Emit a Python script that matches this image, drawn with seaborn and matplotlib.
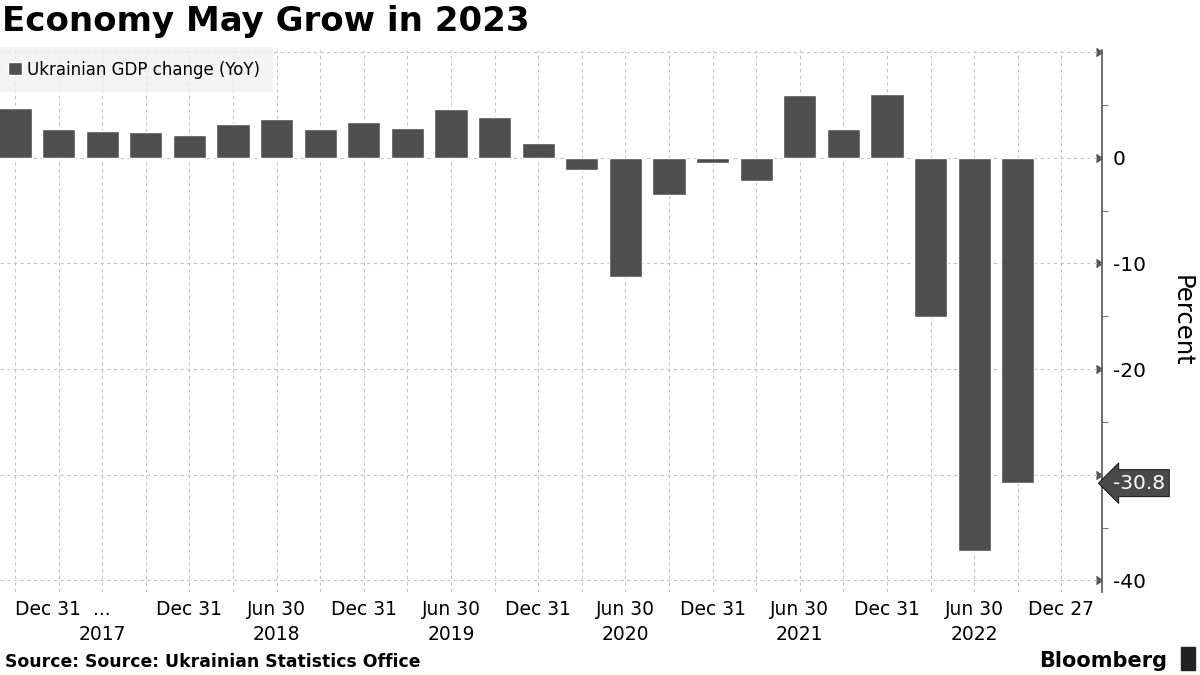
import pandas as pd
import matplotlib
matplotlib.use("Agg")
import matplotlib.pyplot as plt
from matplotlib.patches import Rectangle
import seaborn as sns

# quarterly YoY GDP change, Ukraine (last quarter slot has no value yet)
quarters = ['2016Q4', '2017Q1', '2017Q2', '2017Q3', '2017Q4',
            '2018Q1', '2018Q2', '2018Q3', '2018Q4',
            '2019Q1', '2019Q2', '2019Q3', '2019Q4',
            '2020Q1', '2020Q2', '2020Q3', '2020Q4',
            '2021Q1', '2021Q2', '2021Q3', '2021Q4',
            '2022Q1', '2022Q2', '2022Q3']
all_slots = quarters + ['2022Q4']
gdp_change = [4.7, 2.7, 2.5, 2.4, 2.2,
              3.2, 3.7, 2.7, 3.4,
              2.8, 4.6, 3.9, 1.4,
              -1.2, -11.3, -3.5, -0.5,
              -2.2, 5.9, 2.7, 6.0,
              -15.1, -37.2, -30.8]
tick_labels = ['Dec 31', '...\n2017', 'Dec 31', 'Jun 30\n2018', 'Dec 31',
               'Jun 30\n2019', 'Dec 31', 'Jun 30\n2020', 'Dec 31',
               'Jun 30\n2021', 'Dec 31', 'Jun 30\n2022', 'Dec 27']
y_ticks = [10, 0, -10, -20, -30, -40]
y_tick_labels = ['', '0', '-10', '-20', '', '-40']  # -30 sits under the value tag

df = pd.DataFrame({'quarter': quarters, 'gdp': gdp_change})

sns.set_theme(style='white')
plt.rcParams['font.family'] = ['DejaVu Sans']
plt.rcParams['text.color'] = 'black'

bar_color = '#4f4f4f'
fig = plt.figure(figsize=(12, 6.75), dpi=100)
ax = fig.add_axes([0, 1 - 592 / 675, 1102 / 1200, (592 - 50) / 675])

sns.barplot(data=df, x='quarter', y='gdp', order=all_slots, color=bar_color,
            saturation=1, width=0.76, label='Ukrainian GDP change (YoY)',
            zorder=3, ax=ax)

ax.set_xlim(-0.345, 24.93)
ax.set_ylim(-41.1, 10.2)

# grid
ax.set_axisbelow(True)
for i in range(len(all_slots)):
    ax.axvline(i, color='#c4c4c4', lw=0.8, ls=(0, (3, 3)), zorder=1)
for v in y_ticks:
    ax.axhline(v, color='#c4c4c4', lw=0.8, ls=(0, (3, 3)), zorder=1)

# x axis
ax.set_xticks(range(0, 25, 2))
ax.set_xticklabels(tick_labels, fontsize=13.5, color='black', linespacing=1.4)
ax.tick_params(axis='x', length=0, pad=6)
ax.get_xticklabels()[0].set_ha('left')
ax.set_xlabel('')

# y axis on the right
ax.yaxis.tick_right()
ax.yaxis.set_label_position('right')
ax.set_yticks(y_ticks)
ax.set_yticklabels(y_tick_labels, fontsize=14.5, color='black')
ax.set_yticks([5, -5, -15, -25, -35], minor=True)
ax.tick_params(axis='y', which='major', length=6, width=1, color='#555555', pad=2)
ax.tick_params(axis='y', which='minor', right=True, length=4, width=0.8,
               color='#777777')
for t in ax.yaxis.get_major_ticks():
    t.tick2line.set_marker(5)
    t.tick2line.set_markersize(6)
ax.set_ylabel('Percent', fontsize=17.5, rotation=270, labelpad=34, color='black')

for side in ['left', 'top', 'bottom']:
    ax.spines[side].set_visible(False)
ax.spines['right'].set_color('#555555')
ax.spines['right'].set_linewidth(1.2)

# last value tag
ax.annotate(f'{gdp_change[-1]:.1f}', xy=(1, gdp_change[-1]),
            xycoords=('axes fraction', 'data'), xytext=(8, 0),
            textcoords='offset points', ha='left', va='center',
            fontsize=14.5, color='white', zorder=10, annotation_clip=False,
            bbox=dict(boxstyle='larrow,pad=0.2', fc='#4a4a4a', ec='black', lw=0.6))

# legend
leg = ax.legend(loc='upper left', bbox_to_anchor=(0, 0.996), frameon=True,
                fontsize=12, handlelength=0.85, handleheight=0.85,
                handletextpad=0.25, borderpad=0.5, borderaxespad=0)
leg.get_frame().set_facecolor('#f0f0f0')
leg.get_frame().set_edgecolor('none')
leg.get_frame().set_boxstyle('square')
for txt in leg.get_texts():
    txt.set_color('black')

# title & footer
fig.text(0.002, 0.993, 'Economy May Grow in 2023', fontsize=24.5, fontweight='bold',
         ha='left', va='top', color='black')
fig.text(0.004, 0.006, 'Source: Source: Ukrainian Statistics Office', fontsize=12.4,
         fontweight='bold', ha='left', va='bottom', color='black')
fig.text(0.973, 0.006, 'Bloomberg', fontsize=15, fontweight='bold',
         ha='right', va='bottom', color='black')
fig.patches.append(Rectangle((0.984, 0.008), 0.012, 0.033, transform=fig.transFigure,
                             color='#222222'))

plt.savefig('out.png', dpi=100)
